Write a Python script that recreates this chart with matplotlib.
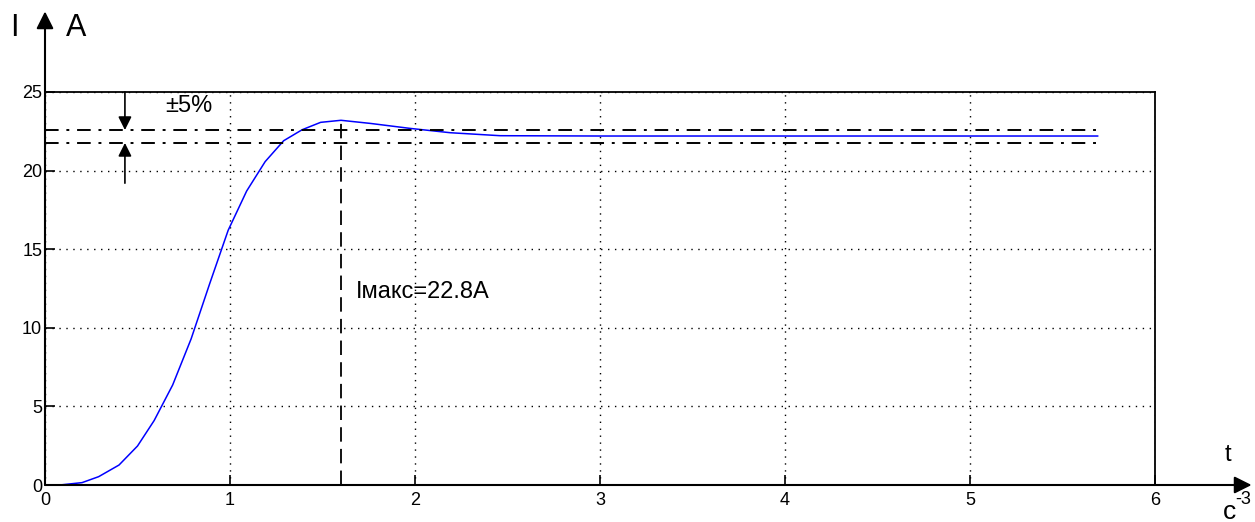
import matplotlib.pyplot as plt

plt.rcParams['font.family'] = ['Liberation Sans', 'DejaVu Sans']

# transient current
t = [0.08, 0.2, 0.29, 0.4, 0.5, 0.59, 0.69, 0.79, 0.89, 0.99, 1.09, 1.19,
     1.29, 1.39, 1.49, 1.6, 1.76, 1.97, 2.19, 2.46, 3.0, 4.0, 5.0, 5.69]
current = [0.0, 0.15, 0.53, 1.27, 2.48, 4.1, 6.36, 9.3, 12.8, 16.2, 18.7, 20.57,
           21.9, 22.6, 23.07, 23.2, 23.0, 22.69, 22.41, 22.22, 22.2, 22.2, 22.2, 22.2]

band_hi = 22.58
band_lo = 21.76
t_peak = 1.6
i_peak = 23.2

xticks = [0, 1, 2, 3, 4, 5, 6]
yticks = [0, 5, 10, 15, 20, 25]

fig = plt.figure(figsize=(12.55, 5.22), dpi=100)
ax = fig.add_axes([45 / 1255, 37 / 522, 1110 / 1255, 393 / 522])
ax.set_xlim(0, 6)
ax.set_ylim(0, 25)

ax.grid(True, color='black', linestyle=(0, (1, 4)), linewidth=1)
ax.set_xticks(xticks)
ax.set_yticks(yticks)
ax.tick_params(direction='in', length=7, width=1.2, labelsize=13, pad=1)
ax.tick_params(axis='x', pad=5)
ax.tick_params(axis='y', pad=2)

for s in ['top', 'right']:
    ax.spines[s].set_linewidth(1.3)
for s in ['left', 'bottom']:
    ax.spines[s].set_visible(False)

# axes with arrows
ax.annotate('', xy=(0, 1.205), xytext=(0, 0), xycoords='axes fraction',
            arrowprops=dict(arrowstyle='-|>', color='black', lw=1.5,
                            mutation_scale=26, shrinkA=0, shrinkB=0))
ax.annotate('', xy=(1.087, 0), xytext=(0, 0), xycoords='axes fraction',
            arrowprops=dict(arrowstyle='-|>', color='black', lw=1.5,
                            mutation_scale=26, shrinkA=0, shrinkB=0))

ax.plot(t, current, color='blue', lw=1.1, clip_on=False)

dashdot = (0, (7, 4, 1.5, 4))
ax.plot([0, t[-1]], [band_hi, band_hi], color='black', lw=1.4, linestyle=dashdot)
ax.plot([0, t[-1]], [band_lo, band_lo], color='black', lw=1.4, linestyle=dashdot)
ax.plot([t_peak, t_peak], [0, i_peak], color='black', lw=1.3, linestyle=(0, (8, 4)))

# +-5% arrows
ax.annotate('', xy=(0.432, band_hi), xytext=(0.432, 25),
            arrowprops=dict(arrowstyle='-|>', color='black', lw=1.2,
                            mutation_scale=20, shrinkA=0, shrinkB=0))
ax.annotate('', xy=(0.432, band_lo), xytext=(0.432, 19.2),
            arrowprops=dict(arrowstyle='-|>', color='black', lw=1.2,
                            mutation_scale=20, shrinkA=0, shrinkB=0))
ax.text(0.65, 24.1, '±5%', fontsize=17, va='center', ha='left')

ax.text(1.68, 12.3, 'Iмакс=22.8A', fontsize=17, va='center', ha='left')

fig.text(14 / 1255, 1 - 28 / 522, 'I', fontsize=22, ha='center', va='center')
fig.text(76 / 1255, 1 - 28 / 522, 'A', fontsize=22, ha='center', va='center')
fig.text(1228 / 1255, 1 - 455 / 522, 't', fontsize=17, ha='center', va='center')
fig.text(1230 / 1255, 1 - 512 / 522, 'c', fontsize=19, ha='center', va='center')
fig.text(1243 / 1255, 1 - 500 / 522, '-3', fontsize=13, ha='center', va='center')

fig.savefig('out.png', dpi=100)
